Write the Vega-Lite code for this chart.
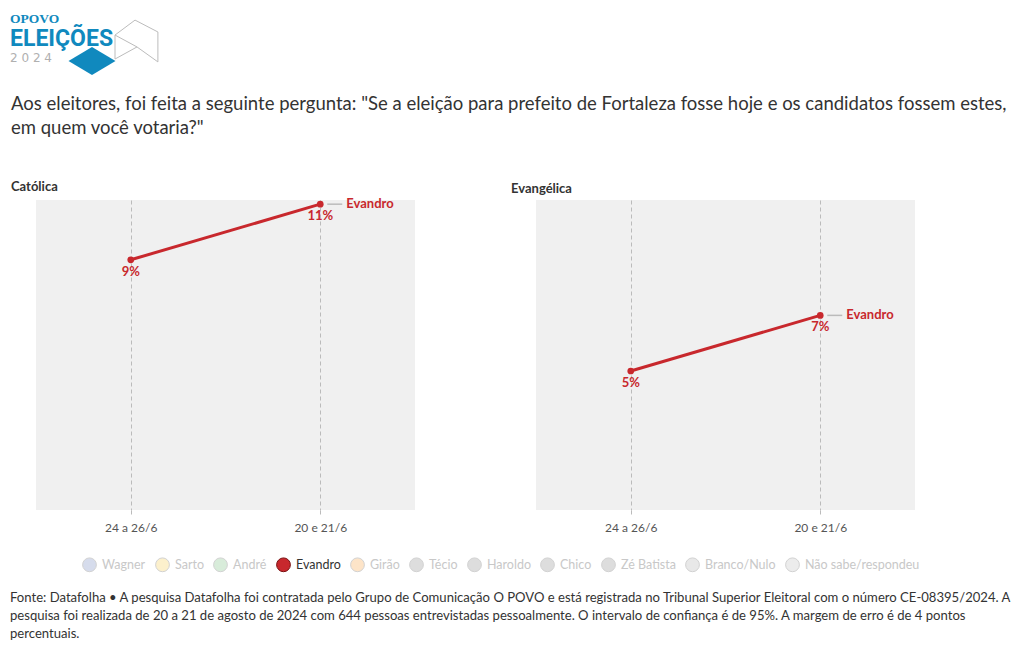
{
  "$schema": "https://vega.github.io/schema/vega-lite/v6.json",
  "background": "#ffffff",
  "padding": {"left": 10, "top": 12, "right": 10, "bottom": 8},
  "config": {
    "font": "Lato",
    "view": {"fill": "#f0f0f0", "stroke": null},
    "title": {"color": "#333333"}
  },
  "datasets": {
    "pesquisa": [
      {"religiao": "Católica", "periodo": "24 a 26/6", "candidato": "Evandro", "valor": 0.09},
      {"religiao": "Católica", "periodo": "20 e 21/6", "candidato": "Evandro", "valor": 0.11},
      {"religiao": "Evangélica", "periodo": "24 a 26/6", "candidato": "Evandro", "valor": 0.05},
      {"religiao": "Evangélica", "periodo": "20 e 21/6", "candidato": "Evandro", "valor": 0.07}
    ],
    "logo": [
      {"parte": "OPOVO"},
      {"parte": "ELEIÇÕES"},
      {"parte": "2024"},
      {"parte": "losango"},
      {"parte": "contorno"}
    ]
  },
  "title": {
    "text": [
      "Fonte: Datafolha • A pesquisa Datafolha foi contratada pelo Grupo de Comunicação O POVO e está registrada no Tribunal Superior Eleitoral com o número CE-08395/2024. A",
      "pesquisa foi realizada de 20 a 21 de agosto de 2024 com 644 pessoas entrevistadas pessoalmente. O intervalo de confiança é de 95%. A margem de erro é de 4 pontos",
      "percentuais."
    ],
    "orient": "bottom",
    "anchor": "start",
    "fontSize": 13.1,
    "fontWeight": "normal",
    "lineHeight": 18,
    "color": "#333333",
    "offset": 18
  },
  "spacing": 18,
  "vconcat": [
    {
      "width": 155,
      "height": 62,
      "view": {"fill": null, "stroke": null},
      "data": {"name": "logo"},
      "resolve": {"scale": {"x": "independent", "y": "independent"}},
      "layer": [
        {
          "transform": [{"filter": "datum.parte === 'losango'"}],
          "mark": {"type": "point", "filled": true, "color": "#1089be", "opacity": 1, "size": 2209, "shape": "M-1,0L0,-0.6L1,0L0,0.6Z"},
          "encoding": {
            "x": {"field": "parte", "type": "nominal", "axis": null, "scale": {"type": "point", "domain": ["losango", "contorno"], "range": [56, 101], "padding": 0}},
            "y": {"field": "parte", "type": "nominal", "axis": null, "scale": {"type": "point", "domain": ["losango", "contorno"], "range": [47, 27], "padding": 0}}
          }
        },
        {
          "transform": [{"filter": "datum.parte === 'contorno'"}],
          "mark": {"type": "point", "filled": false, "color": "#bcbcbc", "opacity": 1, "strokeWidth": 1, "size": 1936,
                   "shape": "M-1,-0.27L-0.09,-0.95L0.95,-0.41L0.95,0.95L0,0.27L-1,-0.27Z M-1,-0.27L-1,0.82L0,0.27"},
          "encoding": {
            "x": {"field": "parte", "type": "nominal", "axis": null, "scale": {"type": "point", "domain": ["losango", "contorno"], "range": [56, 101], "padding": 0}},
            "y": {"field": "parte", "type": "nominal", "axis": null, "scale": {"type": "point", "domain": ["losango", "contorno"], "range": [47, 27], "padding": 0}}
          }
        },
        {
          "transform": [{"filter": "datum.parte === 'OPOVO'"}],
          "mark": {"type": "text", "align": "left", "baseline": "alphabetic", "font": "Liberation Serif", "fontWeight": "bold", "fontSize": 13.5, "color": "#1089be"},
          "encoding": {
            "x": {"field": "parte", "type": "nominal", "axis": null, "scale": {"type": "point", "domain": ["OPOVO", "ELEIÇÕES", "2024"], "range": [-26, -26], "padding": 0}},
            "y": {"field": "parte", "type": "nominal", "axis": null, "scale": {"type": "point", "domain": ["OPOVO", "ELEIÇÕES", "2024"], "range": [9, 48], "padding": 0}},
            "text": {"field": "parte"}
          }
        },
        {
          "transform": [{"filter": "datum.parte === 'ELEIÇÕES'"}],
          "mark": {"type": "text", "align": "left", "baseline": "alphabetic", "dy": 3, "font": "Roboto", "fontWeight": "bold", "fontSize": 23, "color": "#1089be"},
          "encoding": {
            "x": {"field": "parte", "type": "nominal", "axis": null, "scale": {"type": "point", "domain": ["OPOVO", "ELEIÇÕES", "2024"], "range": [-26, -26], "padding": 0}},
            "y": {"field": "parte", "type": "nominal", "axis": null, "scale": {"type": "point", "domain": ["OPOVO", "ELEIÇÕES", "2024"], "range": [9, 48], "padding": 0}},
            "text": {"field": "parte"}
          }
        },
        {
          "transform": [{"filter": "datum.parte === '2024'"}],
          "mark": {"type": "text", "align": "left", "baseline": "alphabetic", "font": "DejaVu Sans", "fontWeight": "normal", "fontSize": 12, "color": "#b0b0b0", "text": "2 0 2 4"},
          "encoding": {
            "x": {"field": "parte", "type": "nominal", "axis": null, "scale": {"type": "point", "domain": ["OPOVO", "ELEIÇÕES", "2024"], "range": [-26, -26], "padding": 0}},
            "y": {"field": "parte", "type": "nominal", "axis": null, "scale": {"type": "point", "domain": ["OPOVO", "ELEIÇÕES", "2024"], "range": [9, 48], "padding": 0}}
          }
        }
      ]
    },
    {
      "title": {
        "text": [
          "Aos eleitores, foi feita a seguinte pergunta: \"Se a eleição para prefeito de Fortaleza fosse hoje e os candidatos fossem estes,",
          "em quem você votaria?\""
        ],
        "anchor": "start",
        "fontSize": 18.5,
        "fontWeight": "normal",
        "lineHeight": 24,
        "color": "#333333",
        "offset": 44
      },
      "spacing": 96,
      "hconcat": [
        {
          "width": 379,
          "height": 310,
          "title": {"text": "Católica", "anchor": "start", "dx": -25, "fontSize": 13, "fontWeight": "bold", "color": "#333333", "offset": 4},
          "data": {"name": "pesquisa"},
          "transform": [{"filter": "datum.religiao === 'Católica'"}],
          "encoding": {
            "x": {"field": "periodo", "type": "ordinal", "sort": ["24 a 26/6", "20 e 21/6"],
                  "scale": {"type": "point", "padding": 0.5},
                  "axis": {"title": null, "domain": false, "labelAngle": 0, "labelColor": "#555555", "labelFontSize": 12, "labelPadding": 7,
                           "ticks": true, "tickSize": 5, "tickColor": "#bbbbbb", "tickDash": [4, 3],
                           "grid": true, "gridColor": "#bbbbbb", "gridDash": [4, 3]}},
            "y": {"field": "valor", "type": "quantitative", "scale": {"domain": [0, 0.1115], "nice": false}, "axis": null}
          },
          "layer": [
            {"mark": {"type": "line", "color": "#c8282d", "strokeWidth": 3}},
            {"mark": {"type": "point", "filled": true, "opacity": 1, "size": 45},
             "encoding": {"color": {"field": "candidato", "type": "nominal",
               "scale": {"domain": ["Wagner", "Sarto", "André", "Evandro", "Girão", "Técio", "Haroldo", "Chico", "Zé Batista", "Branco/Nulo", "Não sabe/respondeu"],
                         "range": ["#d6dcec", "#fcf0cc", "#d8ecda", "#c8282d", "#fde4c8", "#dddddd", "#dddddd", "#dddddd", "#dddddd", "#e8e8e8", "#ececec"]},
               "legend": {"orient": "none", "legendX": 46, "legendY": 543, "direction": "horizontal", "title": null, "symbolType": "circle", "symbolSize": 190,
                          "labelFontSize": 12.5, "labelOffset": 5, "columnPadding": 7, "symbolStrokeWidth": 1,
                          "labelColor": {"expr": "datum.value === 'Evandro' ? '#333333' : '#c8c8c8'"},
                          "symbolStrokeColor": {"expr": "datum.value === 'Evandro' ? '#7a1010' : '#d2d2d2'"},
                          "symbolOpacity": 1,
                          "encode": {
                            "labels": {"update": {"fill": {"signal": "datum.value === 'Evandro' ? '#333333' : '#c8c8c8'"}}},
                            "symbols": {"update": {"stroke": {"signal": "datum.value === 'Evandro' ? '#7a1010' : '#d2d2d2'"}, "opacity": {"value": 1}}}
                          }}}}},
            {"mark": {"type": "text", "baseline": "top", "dy": 6, "fontSize": 13, "fontWeight": "bold", "color": "#c8282d"},
             "encoding": {"text": {"field": "valor", "type": "quantitative", "format": ".0%"}}},
            {"transform": [{"filter": "datum.periodo === '20 e 21/6'"}],
             "mark": {"type": "rule", "color": "#bbbbbb", "strokeWidth": 1.5, "xOffset": 7, "x2Offset": 22},
             "encoding": {"x2": {"field": "periodo"}}},
            {"transform": [{"filter": "datum.periodo === '20 e 21/6'"}],
             "mark": {"type": "text", "align": "left", "baseline": "middle", "dx": 26, "fontSize": 13, "fontWeight": "bold", "color": "#c8282d"},
             "encoding": {"text": {"field": "candidato"}}}
          ]
        },
        {
          "width": 379,
          "height": 310,
          "title": {"text": "Evangélica", "anchor": "start", "dx": -25, "fontSize": 13, "fontWeight": "bold", "color": "#333333", "offset": 4},
          "data": {"name": "pesquisa"},
          "transform": [{"filter": "datum.religiao === 'Evangélica'"}],
          "encoding": {
            "x": {"field": "periodo", "type": "ordinal", "sort": ["24 a 26/6", "20 e 21/6"],
                  "scale": {"type": "point", "padding": 0.5},
                  "axis": {"title": null, "domain": false, "labelAngle": 0, "labelColor": "#555555", "labelFontSize": 12, "labelPadding": 7,
                           "ticks": true, "tickSize": 5, "tickColor": "#bbbbbb", "tickDash": [4, 3],
                           "grid": true, "gridColor": "#bbbbbb", "gridDash": [4, 3]}},
            "y": {"field": "valor", "type": "quantitative", "scale": {"domain": [0, 0.1115], "nice": false}, "axis": null}
          },
          "layer": [
            {"mark": {"type": "line", "color": "#c8282d", "strokeWidth": 3}},
            {"mark": {"type": "point", "filled": true, "opacity": 1, "size": 45},
             "encoding": {"color": {"field": "candidato", "type": "nominal",
               "legend": {"orient": "none", "legendX": 46, "legendY": 543, "direction": "horizontal", "title": null, "symbolType": "circle", "symbolSize": 190,
                          "labelFontSize": 12.5, "labelOffset": 5, "columnPadding": 7, "symbolStrokeWidth": 1,
                          "labelColor": {"expr": "datum.value === 'Evandro' ? '#333333' : '#c8c8c8'"},
                          "symbolStrokeColor": {"expr": "datum.value === 'Evandro' ? '#7a1010' : '#d2d2d2'"},
                          "symbolOpacity": 1,
                          "encode": {
                            "labels": {"update": {"fill": {"signal": "datum.value === 'Evandro' ? '#333333' : '#c8c8c8'"}}},
                            "symbols": {"update": {"stroke": {"signal": "datum.value === 'Evandro' ? '#7a1010' : '#d2d2d2'"}, "opacity": {"value": 1}}}
                          }}}}},
            {"mark": {"type": "text", "baseline": "top", "dy": 6, "fontSize": 13, "fontWeight": "bold", "color": "#c8282d"},
             "encoding": {"text": {"field": "valor", "type": "quantitative", "format": ".0%"}}},
            {"transform": [{"filter": "datum.periodo === '20 e 21/6'"}],
             "mark": {"type": "rule", "color": "#bbbbbb", "strokeWidth": 1.5, "xOffset": 7, "x2Offset": 22},
             "encoding": {"x2": {"field": "periodo"}}},
            {"transform": [{"filter": "datum.periodo === '20 e 21/6'"}],
             "mark": {"type": "text", "align": "left", "baseline": "middle", "dx": 26, "fontSize": 13, "fontWeight": "bold", "color": "#c8282d"},
             "encoding": {"text": {"field": "candidato"}}}
          ]
        }
      ]
    }
  ]
}
